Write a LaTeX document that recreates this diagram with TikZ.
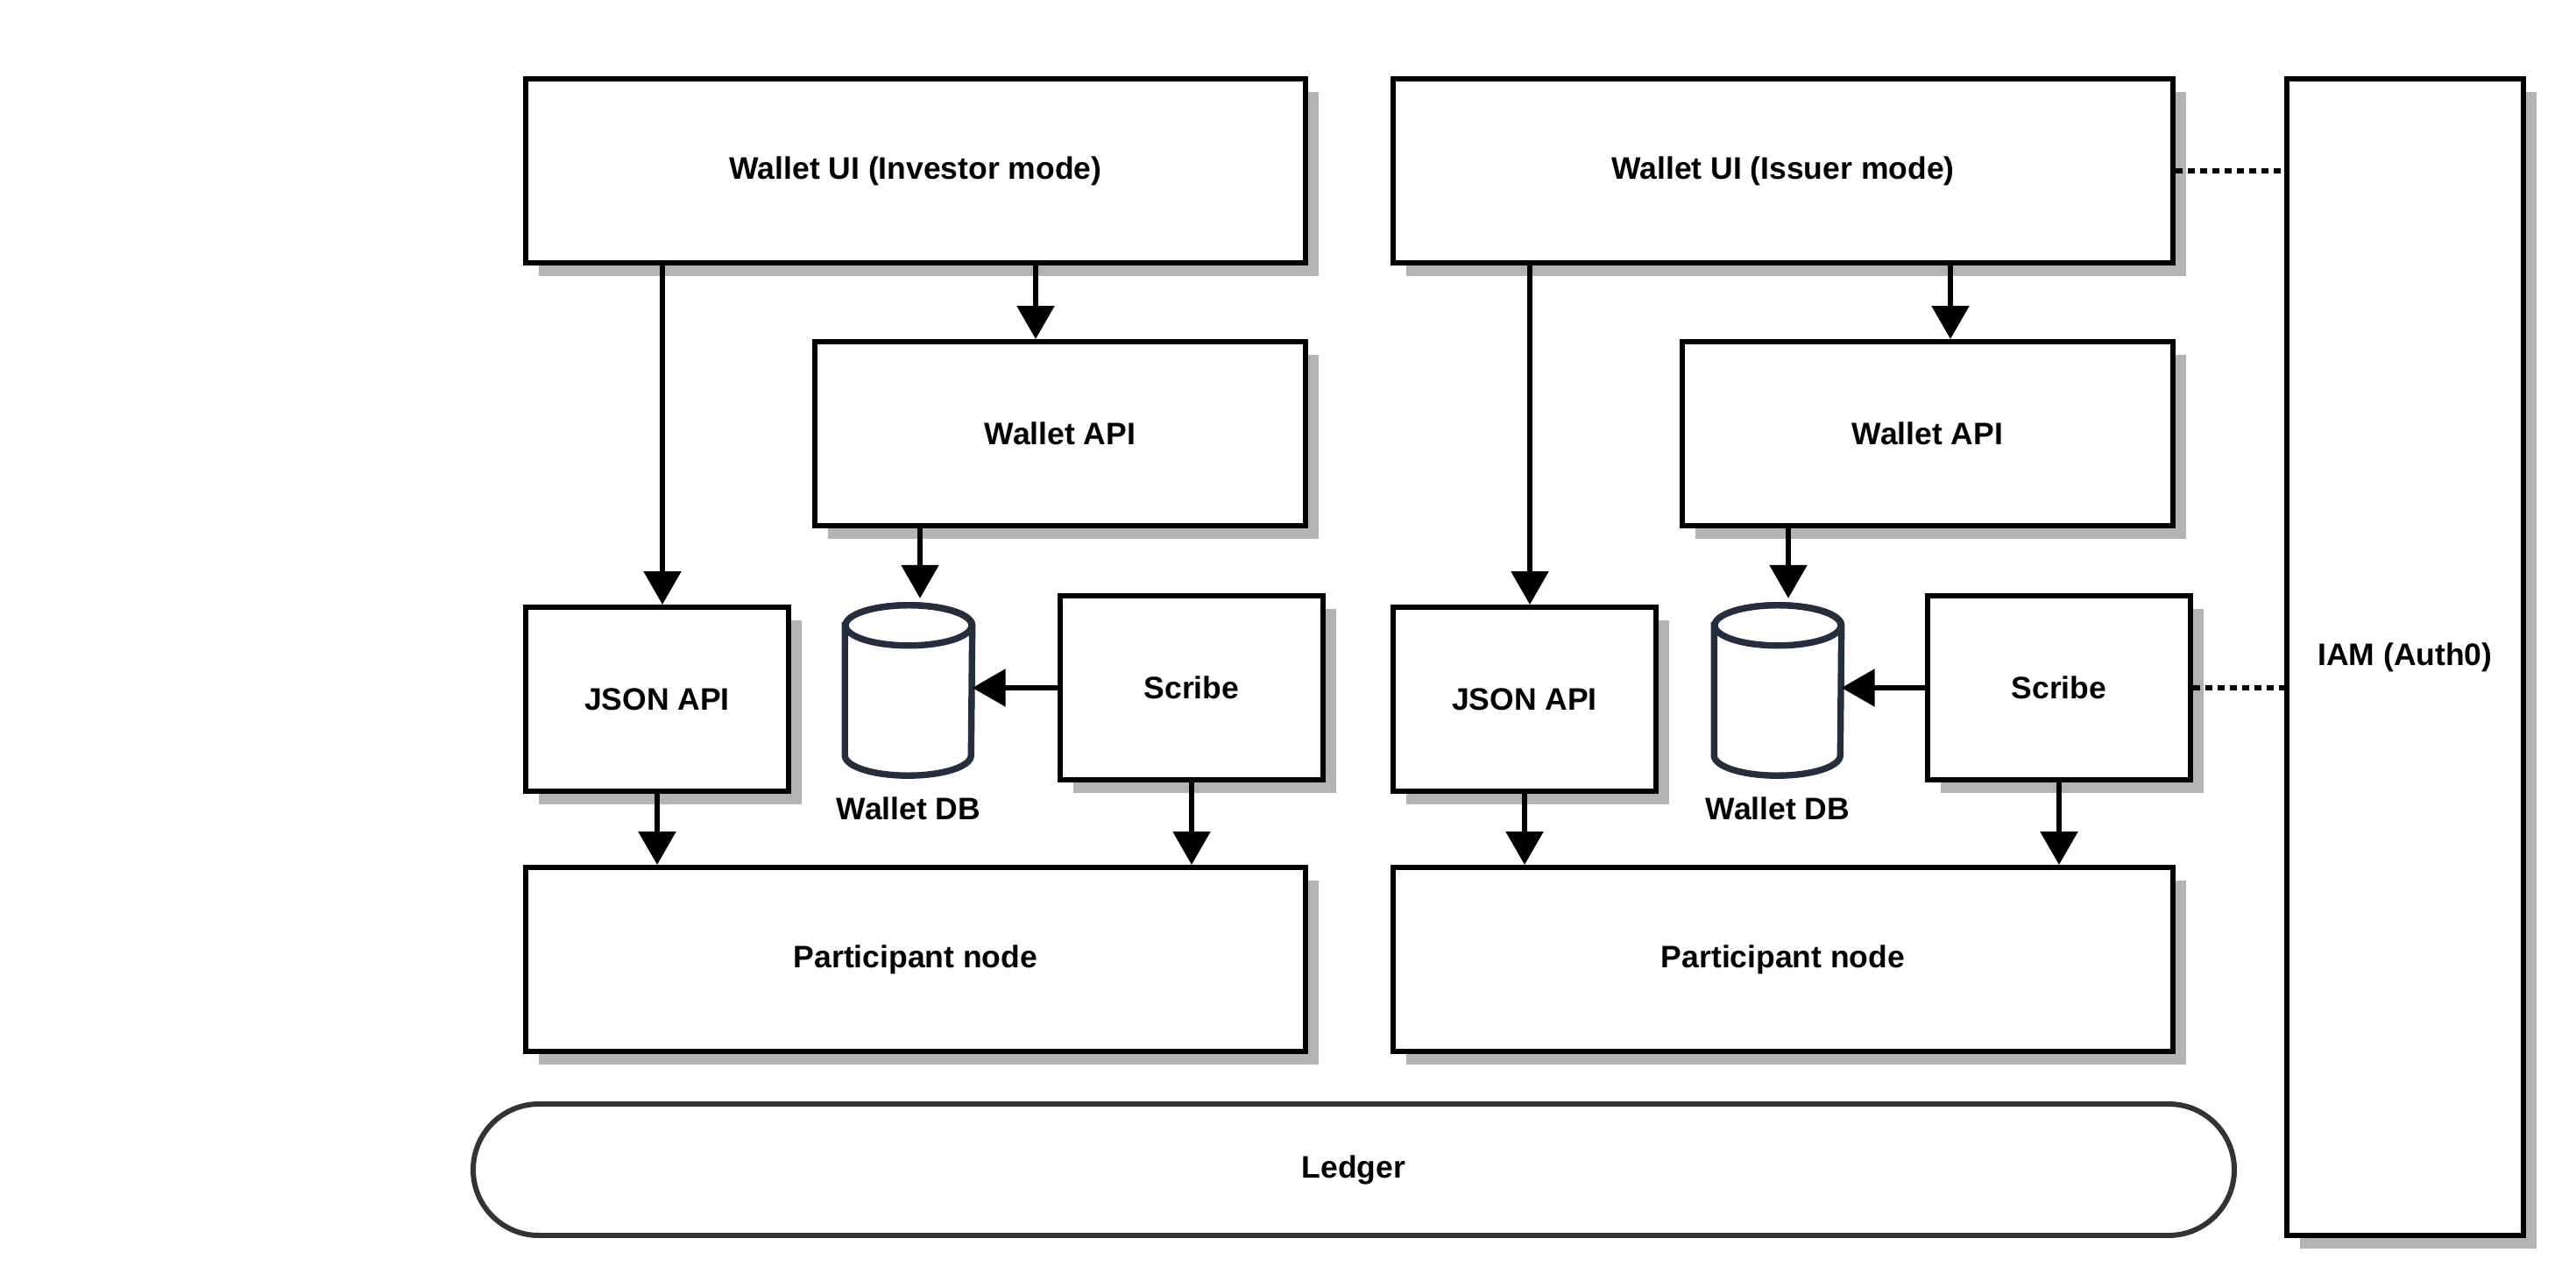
\documentclass[tikz,border=0pt]{standalone}
\usepackage{fontspec}
\setmainfont{Liberation Sans}
\usepackage{tikz}
\usetikzlibrary{arrows.meta,positioning,shadows}
\definecolor{shadowgray}{RGB}{179,179,179}
\definecolor{dbnavy}{RGB}{35,47,62}
\definecolor{ledgergray}{RGB}{51,51,51}

\begin{document}
\begin{tikzpicture}[
  font=\fontsize{10.1}{12}\selectfont\bfseries,
  box/.style={rectangle, draw=black, fill=white, line width=1.7pt, inner sep=0pt,
    drop shadow={shadow xshift=0.15cm, shadow yshift=-0.15cm, fill=shadowgray, draw=none, opacity=1}},
  dbbox/.style={rectangle, inner sep=0pt, minimum width=1.44cm, minimum height=1.93cm},
  dbline/.style={draw=dbnavy, line width=2.1pt, fill=white},
  flow/.style={line width=1.6pt, -{Triangle[length=0.38cm, width=0.42cm]}},
  link/.style={line width=1.5pt, dash pattern=on 0.08cm off 0.06cm}]
\useasboundingbox (0,0) rectangle (29.4,-14.7);

% Investor side
\node[box, minimum width=8.9cm, minimum height=2.1cm] (ui_inv) at (10.45,-1.95) {Wallet UI (Investor mode)};
\node[box, minimum width=5.6cm, minimum height=2.1cm] (api_l) at (12.10,-4.95) {Wallet API};
\node[box, minimum width=3cm, minimum height=2.1cm] (json_l) at (7.50,-7.98) {JSON API};
\node[box, minimum width=3cm, minimum height=2.1cm] (scribe_l) at (13.60,-7.85) {Scribe};
\node[dbbox] (db_l) at (10.37,-7.88) {};
\node[box, minimum width=8.9cm, minimum height=2.1cm] (pn_l) at (10.45,-10.95) {Participant node};

% Issuer side
\node[box, minimum width=8.9cm, minimum height=2.1cm] (ui_iss) at (20.35,-1.95) {Wallet UI (Issuer mode)};
\node[box, minimum width=5.6cm, minimum height=2.1cm] (api_r) at (22.00,-4.95) {Wallet API};
\node[box, minimum width=3cm, minimum height=2.1cm] (json_r) at (17.40,-7.98) {JSON API};
\node[box, minimum width=3cm, minimum height=2.1cm] (scribe_r) at (23.50,-7.85) {Scribe};
\node[dbbox] (db_r) at (20.29,-7.88) {};
\node[box, minimum width=8.9cm, minimum height=2.1cm] (pn_r) at (20.35,-10.95) {Participant node};

% Ledger and IAM
\node[draw=ledgergray, line width=1.7pt, rounded corners=0.75cm, minimum width=20.1cm,
      minimum height=1.5cm, inner sep=0pt] (ledger) at (15.45,-13.35) {Ledger};
\node[box, minimum width=2.7cm, minimum height=13.2cm] (iam) at (27.45,-7.50) {IAM (Auth0)};

% Databases
\foreach \db in {db_l,db_r} {
  \draw[dbline] ([yshift=-0.23cm]\db.north west) -- ([yshift=0.23cm]\db.south west)
    arc[start angle=180, end angle=360, x radius=0.72cm, y radius=0.23cm]
    -- ([yshift=-0.23cm]\db.north east)
    arc[start angle=0, end angle=180, x radius=0.72cm, y radius=0.23cm] -- cycle;
  \draw[dbline] ([yshift=-0.23cm]\db.north) ellipse[x radius=0.72cm, y radius=0.23cm];
  \node[below=3.5pt of \db] (\db_lbl) {Wallet DB};
}

% Investor connectors
\draw[flow] ([xshift=0.06cm]json_l.north |- ui_inv.south) -- ([xshift=0.06cm]json_l.north);
\draw[flow] ([xshift=-0.28cm]api_l.north |- ui_inv.south) -- ([xshift=-0.28cm]api_l.north);
\draw[flow] ([xshift=0.13cm]db_l.north |- api_l.south) -- ([xshift=0.13cm,yshift=0.08cm]db_l.north);
\draw[flow] (scribe_l.west) -- (scribe_l.west -| db_l.east);
\draw[flow] (json_l.south) -- (json_l.south |- pn_l.north);
\draw[flow] (scribe_l.south) -- (scribe_l.south |- pn_l.north);

% Issuer connectors
\draw[flow] ([xshift=0.06cm]json_r.north |- ui_iss.south) -- ([xshift=0.06cm]json_r.north);
\draw[flow] ([xshift=0.26cm]api_r.north |- ui_iss.south) -- ([xshift=0.26cm]api_r.north);
\draw[flow] ([xshift=0.12cm]db_r.north |- api_r.south) -- ([xshift=0.12cm,yshift=0.08cm]db_r.north);
\draw[flow] (scribe_r.west) -- (scribe_r.west -| db_r.east);
\draw[flow] (json_r.south) -- (json_r.south |- pn_r.north);
\draw[flow] (scribe_r.south) -- (scribe_r.south |- pn_r.north);

% Links to IAM
\draw[link] (ui_iss.east) -- (ui_iss.east -| iam.west);
\draw[link] (scribe_r.east) -- (scribe_r.east -| iam.west);
\end{tikzpicture}
\end{document}
